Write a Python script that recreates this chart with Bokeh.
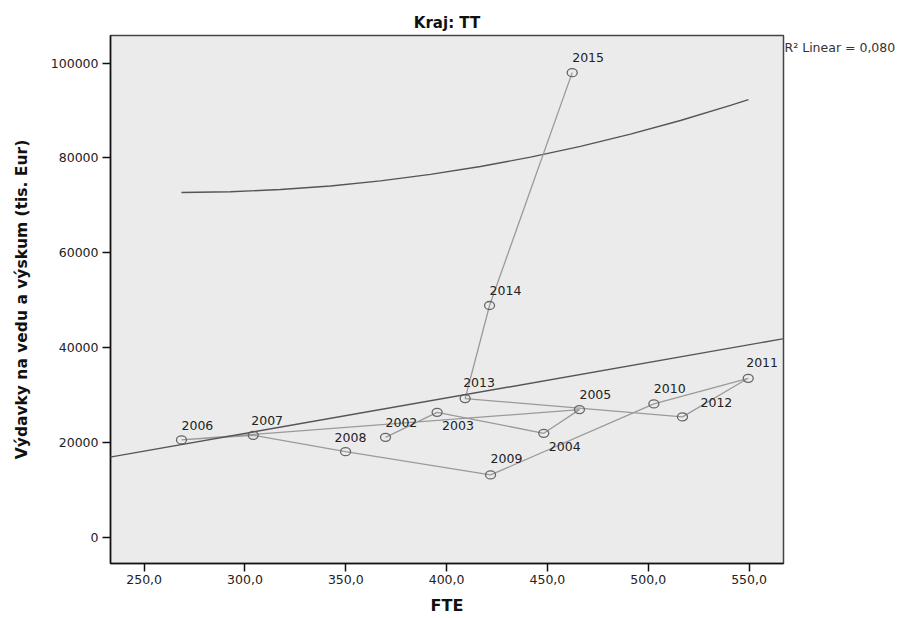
import numpy as np
from bokeh.plotting import figure
from bokeh.models import (ColumnDataSource, Range1d, FixedTicker, Slope,
                          LinearAxis)
from bokeh.core.properties import value
from bokeh.embed import file_html
from bokeh.resources import INLINE

# Research staff (FTE) and R&D expenditure (thousand EUR) by year
years = ["2002", "2003", "2004", "2005", "2006", "2007", "2008",
         "2009", "2010", "2011", "2012", "2013", "2014", "2015"]
fte = [369.7, 395.3, 448.2, 465.9, 268.5, 304.1, 349.9,
       421.8, 502.8, 549.6, 517.0, 409.2, 421.3, 462.3]
vydavky = [21100, 26370, 21940, 26940, 20550, 21520, 18080,
           13170, 28140, 33540, 25400, 29260, 48880, 97970]

# Second fitted curve, sampled along the FTE range
curve_fte = [268.5, 292.8, 317.6, 342.4, 367.2, 392.0, 416.8,
             441.6, 466.4, 491.2, 516.0, 540.8, 549.7]
curve_vyd = [72700, 72870, 73330, 74090, 75150, 76520, 78190,
             80150, 82430, 85000, 87890, 91060, 92280]

x_ticks = [250, 300, 350, 400, 450, 500, 550]
x_tick_labels = ["250,0", "300,0", "350,0", "400,0", "450,0", "500,0", "550,0"]
y_ticks = [0, 20000, 40000, 60000, 80000, 100000]
y_tick_labels = ["0", "20000", "40000", "60000", "80000", "100000"]

r2_text = "R\u00b2 Linear = 0,080"

# Label placement (pixels) for each year's tag
lab_dx = [0, 5, 5, 0, 0, -2, -11, 0, 0, -2, 18, -2, 0, 0]
lab_dy = [-15, 13, 13, -15, -14, -15, -14, -16, -15, -16, -14, -16, -15, -15]

FONT = "DejaVu Sans"

p = figure(width=907, height=618, output_backend="svg", toolbar_location=None,
           x_range=Range1d(233.3, 567.1), y_range=Range1d(-5500, 105800),
           min_border_left=110, min_border_right=124, min_border_top=35,
           min_border_bottom=55, title="Kraj: TT")

p.background_fill_color = "#ebebeb"
p.border_fill_color = "white"
p.outline_line_color = "#444444"
p.outline_line_width = 1.5
p.xgrid.visible = False
p.ygrid.visible = False

p.title.align = "center"
p.title.text_font = FONT
p.title.text_font_size = "15px"
p.title.text_font_style = "bold"
p.title.text_color = "#111111"
p.title.standoff = 8

for ax in (p.xaxis[0], p.yaxis[0]):
    ax.axis_line_color = "#111111"
    ax.axis_line_width = 1.5
    ax.major_tick_line_color = "#111111"
    ax.major_tick_line_width = 1.5
    ax.major_tick_in = 0
    ax.major_tick_out = 8
    ax.minor_tick_line_color = None
    ax.major_label_text_font = FONT
    ax.major_label_text_font_size = "12.5px"
    ax.major_label_text_color = "#222222"
    ax.axis_label_text_font = FONT
    ax.axis_label_text_font_style = "bold"
    ax.axis_label_text_color = "#111111"

p.xaxis[0].ticker = FixedTicker(ticks=x_ticks)
p.xaxis[0].major_label_overrides = dict(zip(x_ticks, x_tick_labels))
p.xaxis[0].axis_label = "FTE"
p.xaxis[0].axis_label_text_font_size = "16px"
p.xaxis[0].major_label_standoff = 3
p.xaxis[0].axis_label_standoff = 9

p.yaxis[0].ticker = FixedTicker(ticks=y_ticks)
p.yaxis[0].major_label_overrides = dict(zip(y_ticks, y_tick_labels))
p.yaxis[0].axis_label = "Výdavky na vedu a výskum (tis. Eur)"
p.yaxis[0].axis_label_text_font_size = "15.5px"
p.yaxis[0].major_label_standoff = 4
p.yaxis[0].axis_label_standoff = 17

# Goodness-of-fit note placed beside the top right corner of the frame
note_at = 103300
note_axis = LinearAxis(ticker=FixedTicker(ticks=[note_at]),
                       major_label_overrides={note_at: r2_text},
                       axis_line_color=None, major_tick_line_color=None,
                       minor_tick_line_color=None, major_tick_in=0,
                       major_tick_out=0, major_label_standoff=1,
                       major_label_orientation="horizontal",
                       major_label_text_font=FONT,
                       major_label_text_font_size="12.5px",
                       major_label_text_color="#333333")
p.add_layout(note_axis, "right")

src = ColumnDataSource(dict(x=fte, y=vydavky, year=years, dx=lab_dx, dy=lab_dy))

# Linear least-squares fit across the full frame
slope, intercept = np.polyfit(np.array(fte), np.array(vydavky), 1)
p.add_layout(Slope(gradient=slope, y_intercept=intercept,
                   line_color="#555555", line_width=1.4))

# Fitted curve
p.line(curve_fte, curve_vyd, line_color="#555555", line_width=1.4)

# Year-to-year path
p.line("x", "y", source=src, line_color="#9a9a9a", line_width=1.3)
p.ellipse("x", "y", width=10, height=8, width_units="screen", height_units="screen",
          source=src, fill_color=None, line_color="#666666", line_width=1.3)

p.text("x", "y", text="year", source=src, x_offset="dx", y_offset="dy",
       text_font=value(FONT), text_font_size="12.5px", text_color="#222222",
       text_align="left", text_baseline="middle")

open("out.html", "w").write(file_html(p, INLINE))
